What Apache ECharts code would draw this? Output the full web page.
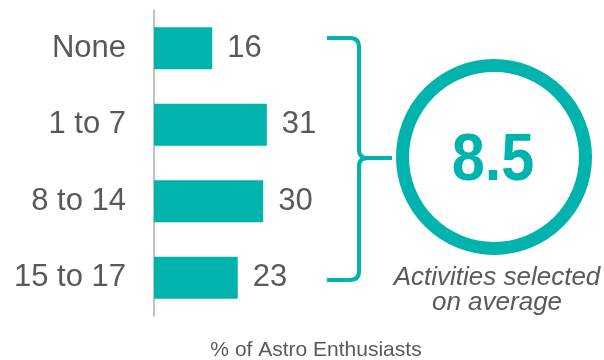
<!DOCTYPE html>
<html>
<head>
<meta charset="utf-8">
<style>
  html, body { margin: 0; padding: 0; background: #ffffff; }
  #chart { width: 604px; height: 360px; }
</style>
<script src="https://cdn.jsdelivr.net/npm/echarts@6/dist/echarts.min.js"></script>
</head>
<body>
<div id="chart"></div>
<script>
// Activities selected by Astro Enthusiasts
const categories = ['None', '1 to 7', '8 to 14', '15 to 17'];
const shares = [16, 31, 30, 23];           // % of Astro Enthusiasts
const averageActivities = 8.5;
const axisTitle = '% of Astro Enthusiasts';
const calloutLines = ['Activities selected', 'on average'];

const TEAL = '#00B3AC';
const GREY = '#595959';
const FONT = '"Liberation Sans", Arial, sans-serif';

const chart = echarts.init(document.getElementById('chart'), null, { renderer: 'canvas' });

// curly brace pieces: straight runs and rounded corners
const braceStyle = { fill: null, stroke: TEAL, lineWidth: 4 };
function seg(x1, y1, x2, y2) {
  return { type: 'line', shape: { x1, y1, x2, y2 }, style: braceStyle };
}
function bend(x1, y1, cx, cy, x2, y2) {
  return { type: 'bezierCurve', shape: { x1, y1, cpx1: cx, cpy1: cy, x2, y2 }, style: braceStyle };
}
const brace = [
  seg(327, 38, 350.5, 38),
  bend(350, 38, 359, 38, 359, 47),
  seg(359, 46.5, 359, 150.5),
  bend(359, 150, 359, 158, 368, 158),
  seg(367.5, 158, 392, 158),
  bend(368, 158, 359, 158, 359, 166),
  seg(359, 165.5, 359, 271.5),
  bend(359, 271, 359, 280, 350, 280),
  seg(350.5, 280, 327, 280)
];

chart.setOption({
  animation: false,
  backgroundColor: '#ffffff',
  grid: { left: 154, top: 10, width: 364, height: 306, containLabel: false },
  xAxis: {
    type: 'value',
    min: 0,
    max: 100,
    show: false
  },
  yAxis: {
    type: 'category',
    data: categories,
    inverse: true,
    axisLine: { show: true, lineStyle: { color: '#AEAEAE', width: 1.5 } },
    axisTick: { show: false },
    splitLine: { show: false },
    axisLabel: { margin: 28, color: GREY, fontSize: 31, fontFamily: FONT }
  },
  title: {
    text: axisTitle,
    left: 311,
    top: 335,
    textAlign: 'center',
    textStyle: { color: GREY, fontSize: 21, fontWeight: 'normal', fontFamily: FONT }
  },
  series: [{
    type: 'bar',
    data: shares,
    barWidth: '55%',
    itemStyle: { color: TEAL },
    label: {
      show: true,
      position: 'right',
      distance: 15,
      color: GREY,
      fontSize: 31,
      fontFamily: FONT
    }
  }],
  graphic: brace.concat([
    {
      type: 'circle',
      shape: { cx: 494, cy: 157, r: 91.5 },
      style: { fill: null, stroke: TEAL, lineWidth: 13 }
    },
    {
      type: 'text',
      x: 493,
      y: 162,
      scaleX: 0.9,
      style: {
        text: String(averageActivities),
        fill: TEAL,
        font: 'bold 66px ' + FONT,
        textAlign: 'center',
        textVerticalAlign: 'middle'
      }
    },
    {
      type: 'text',
      x: 497,
      y: 265,
      style: {
        text: calloutLines.join('\n'),
        fill: GREY,
        font: 'italic 26px ' + FONT,
        lineHeight: 25,
        textAlign: 'center',
        textVerticalAlign: 'top'
      }
    }
  ])
});
</script>
</body>
</html>
